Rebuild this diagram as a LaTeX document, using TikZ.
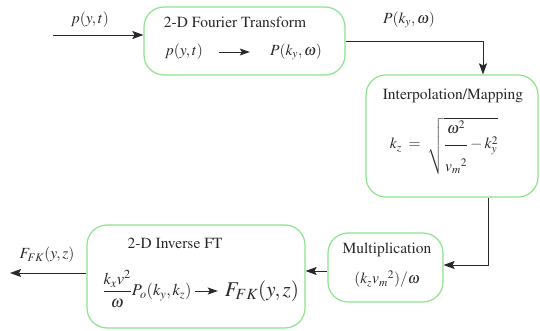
\documentclass[tikz,border=0pt]{standalone}
\usepackage[T1]{fontenc}
\usepackage{amsmath}
\usepackage{mathptmx}
\usetikzlibrary{arrows.meta}
\definecolor{boxgreen}{RGB}{140,228,140}
\definecolor{ink}{RGB}{40,40,40}

\begin{document}
\begin{tikzpicture}[x=1pt,y=-1pt,
  every node/.style={font=\fontsize{15.5}{18}\selectfont\rmfamily, text=ink, inner sep=0pt},
  block/.style={draw=boxgreen, line width=1.2pt, rounded corners=20pt},
  flow/.style={draw=ink, line width=0.9pt, -{Stealth[length=11pt,width=8pt,inset=2pt]}},
  inner arrow/.style={draw=ink, line width=0.9pt, -{Stealth[length=10pt,width=7pt,inset=2pt]}}]

\useasboundingbox (0,0) rectangle (540,331);

% processing blocks
\node[block, minimum width=201pt, minimum height=68pt] (fft) at (244.5,41) {};
\node[block, minimum width=172pt, minimum height=122pt] (interp) at (452,136) {};
\node[block, minimum width=115pt, minimum height=69pt] (mult) at (385.5,267.5) {};
\node[block, minimum width=218pt, minimum height=103pt] (ifft) at (196,276.5) {};

% 2-D Fourier transform
\node (fftT) at (235,22) {2-D Fourier Transform};
\node (fftA) at (184,52) {$p(y,t)$};
\node (fftB) at (296,52) {$P(k_y,\omega)$};
\draw[inner arrow, shorten <=16pt, shorten >=20pt] (fftA) -- (fftB);

% interpolation / mapping
\node (interpT) at (453,96) {Interpolation/Mapping};
\node (interpF) at (444,146) {$k_z \;=\; \sqrt{\dfrac{\omega^{2}\rule[-9pt]{0pt}{9pt}}{\rule{0pt}{24pt}{v_m}^{2}}-k_y^{2}}$};

% multiplication
\node (multT) at (387,250) {Multiplication};
\node (multF) at (387,279) {$(k_z{v_m}^{2})/\omega$};

% 2-D inverse FT
\node (ifftT) at (175,243) {2-D Inverse FT};
\node[font=\fontsize{16.5}{19}\selectfont\rmfamily] (ifftA) at (147,289) {$\dfrac{k_x v^{2}}{\omega}P_o(k_y,k_z)$};
\node[font=\fontsize{21}{24}\selectfont\rmfamily] (ifftC) at (262,291) {$F_{FK}(y,z)$};
\draw[inner arrow, shorten <=3pt, shorten >=7pt] (ifftA.east |- ifftC) -- (ifftC);

% connectors
\coordinate (src) at (53,35);
\coordinate (k1) at (483,41);
\coordinate (k2) at (488,265);
\coordinate (k3) at (0,271);
\coordinate (dst) at (10,273);

\draw[flow] (src) -- (src -| fft.west);
\draw[flow] (fft.east) -- (k1) -- (k1 |- interp.north);
\draw[flow] (k2 |- interp.south) -- (k2) -- (k2 -| mult.east);
\draw[flow] (mult.west |- k3) -- (ifft.east |- k3);
\draw[flow] (ifft.west |- dst) -- (dst);

% signal labels
\node (lblIn) at (90,20) {$p(y,t)$};
\node (lblMid) at (409,20) {$P(k_y,\omega)$};
\node (lblOut) at (47,255) {$F_{FK}(y,z)$};
\end{tikzpicture}
\end{document}
